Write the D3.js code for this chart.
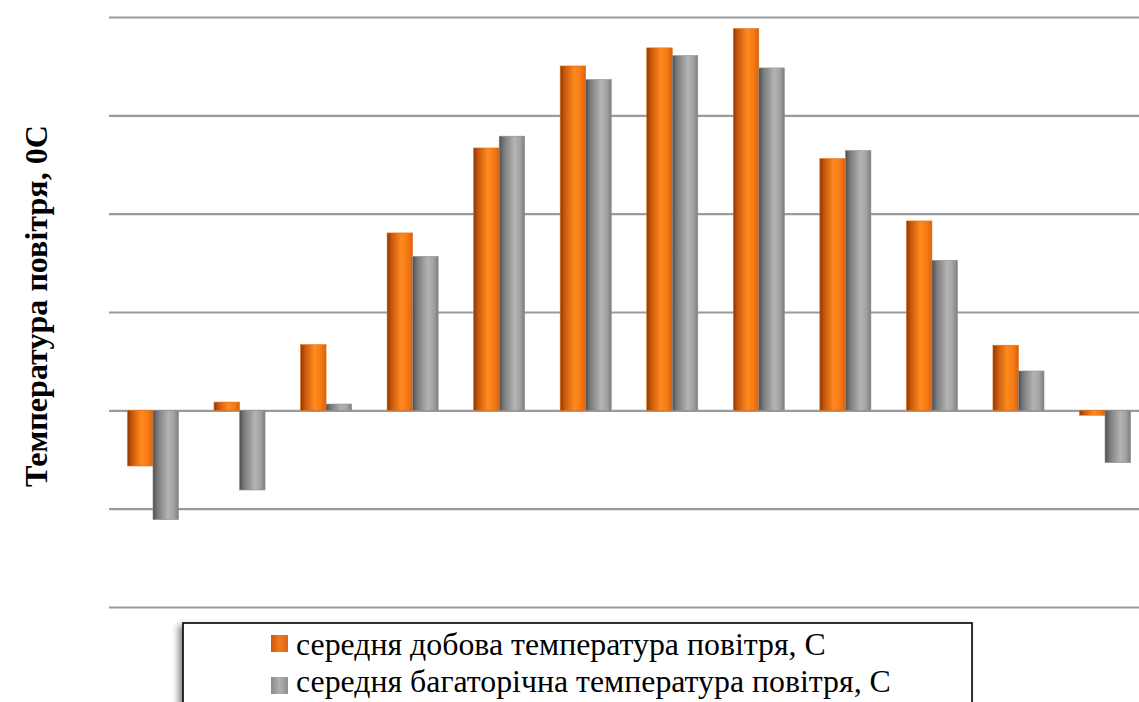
<!DOCTYPE html>
<html>
<head>
<meta charset="utf-8">
<script src="https://cdn.jsdelivr.net/npm/d3@7/dist/d3.min.js"></script>
<style>
html,body{margin:0;padding:0;background:#fff;}
svg{display:block;}
</style>
</head>
<body>
<svg id="chart" width="1139" height="702"></svg>
<script>
// ---- data ----
const months = ["січень","лютий","березень","квітень","травень","червень","липень","серпень","вересень","жовтень","листопад","грудень"];
const seriesNames = ["середня добова температура повітря, С","середня багаторічна температура повітря, С"];
const dailyTemp = [-2.83, 0.42, 3.34, 9.02, 13.34, 17.51, 18.43, 19.41, 12.80, 9.63, 3.31, -0.25];
const longTermTemp = [-5.56, -4.05, 0.32, 7.83, 13.94, 16.82, 18.04, 17.41, 13.21, 7.63, 2.00, -2.66];
const yTicks = [-10, -5, 0, 5, 10, 15, 20];
const yTitle = "Температура повітря, 0С";

const SERIF = '"Liberation Serif"';
const svg = d3.select("#chart");
const defs = svg.append("defs");

function cyl(id, stops){
  const g = defs.append("linearGradient").attr("id", id).attr("x1","0%").attr("x2","100%").attr("y1","0%").attr("y2","0%");
  stops.forEach(s => g.append("stop").attr("offset", s[0]).attr("stop-color", s[1]));
}
cyl("gOrange", [["0%","#8a3a05"],["18%","#c9580b"],["55%","#ff8a1f"],["80%","#f57a14"],["100%","#d8620c"]]);
cyl("gGray",   [["0%","#4e4e4e"],["18%","#7a7a7a"],["60%","#b4b4b4"],["82%","#a2a2a2"],["100%","#7e7e7e"]]);
cyl("lOrange", [["0%","#c85a10"],["50%","#f47a1c"],["100%","#d66818"]]);
cyl("lGray",   [["0%","#8a8a8a"],["50%","#b0b0b0"],["100%","#8e8e8e"]]);

const sh = defs.append("filter").attr("id","shadow").attr("x","-10%").attr("y","-20%").attr("width","120%").attr("height","150%");
sh.append("feDropShadow").attr("dx",-4).attr("dy",3).attr("stdDeviation",3).attr("flood-color","#000").attr("flood-opacity",0.45);

const y = d3.scaleLinear().domain([-10, 20]).range([607, 17]);
const x0 = d3.scaleBand().domain(months).range([109.7, 1148.3]).paddingInner(0.41).paddingOuter(0.205);
const x1 = d3.scaleBand().domain([0,1]).range([0, x0.bandwidth()]);

// gridlines
const yAxis = d3.axisLeft(y).tickValues(yTicks).tickSize(-(1139 - 109)).tickFormat("");
const ga = svg.append("g").attr("transform", "translate(109,0)").call(yAxis);
ga.select(".domain").remove();
ga.selectAll(".tick line").attr("stroke", "#9a9a9a").attr("stroke-width", 2.2);

// bars
const data = months.map((m, i) => ({m, vals: [dailyTemp[i], longTermTemp[i]]}));
const fills = ["url(#gOrange)", "url(#gGray)"];
const edge = ["#e2711a", "#8f8f8f"];
const grp = svg.append("g").selectAll("g").data(data).join("g")
  .attr("transform", d => `translate(${x0(d.m)},0)`);
grp.selectAll("rect").data(d => d.vals.map((v, k) => ({v, k}))).join("rect")
  .attr("x", d => x1(d.k))
  .attr("width", x1.bandwidth())
  .attr("y", d => Math.min(y(d.v), y(0)))
  .attr("height", d => Math.abs(y(d.v) - y(0)))
  .attr("fill", d => fills[d.k])
  .attr("stroke", d => edge[d.k]).attr("stroke-width", 0.6);

// fit text to a target length
function fit(t, target, base){
  t.style("font-size", base + "px");
  const w = t.node().getComputedTextLength();
  const fs = base * target / w;
  t.style("font-size", fs.toFixed(2) + "px");
  return fs;
}

// y title
const yt = svg.append("text")
  .attr("transform", "translate(47,306) rotate(-90)")
  .attr("text-anchor", "middle")
  .style("font-family", SERIF)
  .style("font-weight", "bold")
  .attr("fill", "#000")
  .text(yTitle);
fit(yt, 362, 25);

// legend
const lg = svg.append("g");
lg.append("rect").attr("x", 183).attr("y", 623).attr("width", 789).attr("height", 120)
  .attr("fill", "#fff").attr("stroke", "#000").attr("stroke-width", 1.6).attr("filter", "url(#shadow)");
const lfills = ["url(#lOrange)", "url(#lGray)"];
let legendFs = 27;
seriesNames.forEach((name, i) => {
  const yy = 635 + i * 42;
  lg.append("rect").attr("x", 271).attr("y", yy).attr("width", 17).attr("height", 17).attr("fill", lfills[i]);
  const t = lg.append("text").attr("x", 296).attr("y", 655 + i * 37)
    .style("font-family", SERIF).attr("fill", "#000").text(name);
  if (i === 0) legendFs = fit(t, 530, 27);
  else t.style("font-size", legendFs.toFixed(2) + "px");
});
</script>
</body>
</html>
